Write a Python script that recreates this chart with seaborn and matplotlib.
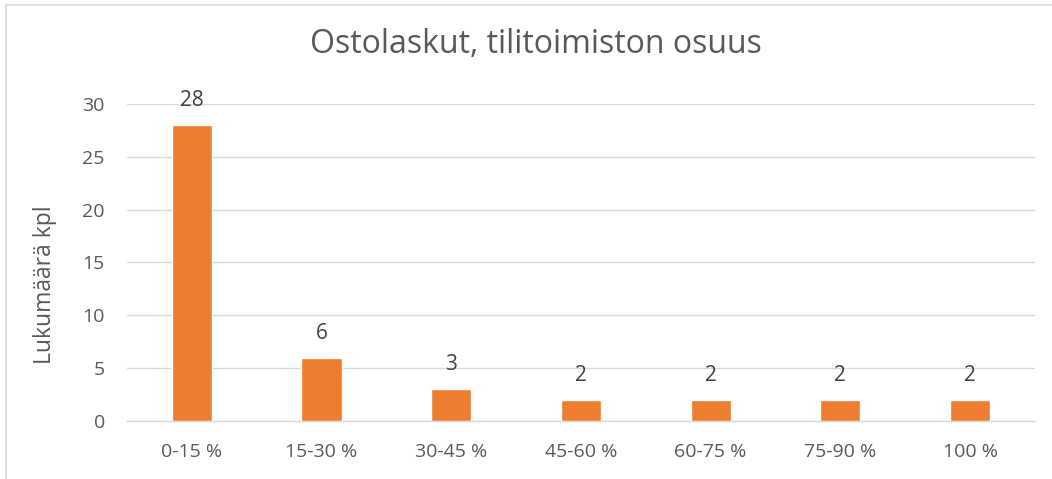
import matplotlib
matplotlib.use("Agg")
import matplotlib.pyplot as plt
from matplotlib.lines import Line2D
import seaborn as sns
import pandas as pd

categories = ["0-15 %", "15-30 %", "30-45 %", "45-60 %", "60-75 %", "75-90 %", "100 %"]
counts = [28, 6, 3, 2, 2, 2, 2]
title = "Ostolaskut, tilitoimiston osuus"
ylabel = "Lukumäärä kpl"

sns.set_theme(style="white")
plt.rcParams['font.family'] = ['Open Sans', 'DejaVu Sans']

df = pd.DataFrame({"cat": categories, "n": counts})

W, H = 1052, 479
fig = plt.figure(figsize=(W / 100, H / 100), dpi=100)
ax = fig.add_axes([0.1207, 0.121, 0.863, 0.662])

sns.barplot(data=df, x="cat", y="n", color="#ED7D31", width=0.31, saturation=1, ax=ax, zorder=3)

ax.set_ylim(0, 30)
ax.set_yticks(range(0, 31, 5))
ax.yaxis.grid(True, color="#D9D9D9", linewidth=1, zorder=0)
ax.set_axisbelow(True)
for s in ["top", "right", "left"]:
    ax.spines[s].set_visible(False)
ax.spines["bottom"].set_color("#D9D9D9")
ax.spines["bottom"].set_linewidth(1)
ax.tick_params(axis="both", length=0, colors="#595959", labelsize=14)
ax.tick_params(axis="x", pad=16)
ax.tick_params(axis="y", pad=16)
ax.set_xlabel("")
ax.set_ylabel(ylabel, fontsize=16.5, color="#595959")
ax.yaxis.set_label_coords(-0.077, 0.43)

for c in ax.containers:
    ax.bar_label(c, labels=[str(v) for v in counts], padding=10, fontsize=15, color="#404040")

fig.text(0.509, 1 - 53 / H, title, ha="center", va="baseline", fontsize=23, color="#595959")

fig.add_artist(Line2D([5.5 / W, 5.5 / W], [0, 1 - 4 / H], transform=fig.transFigure,
                      color="#D9D9D9", linewidth=1.2))
fig.add_artist(Line2D([5.5 / W, 1], [1 - 4.5 / H, 1 - 4.5 / H], transform=fig.transFigure,
                      color="#D9D9D9", linewidth=1.2))

fig.savefig("out.png", dpi=100)
